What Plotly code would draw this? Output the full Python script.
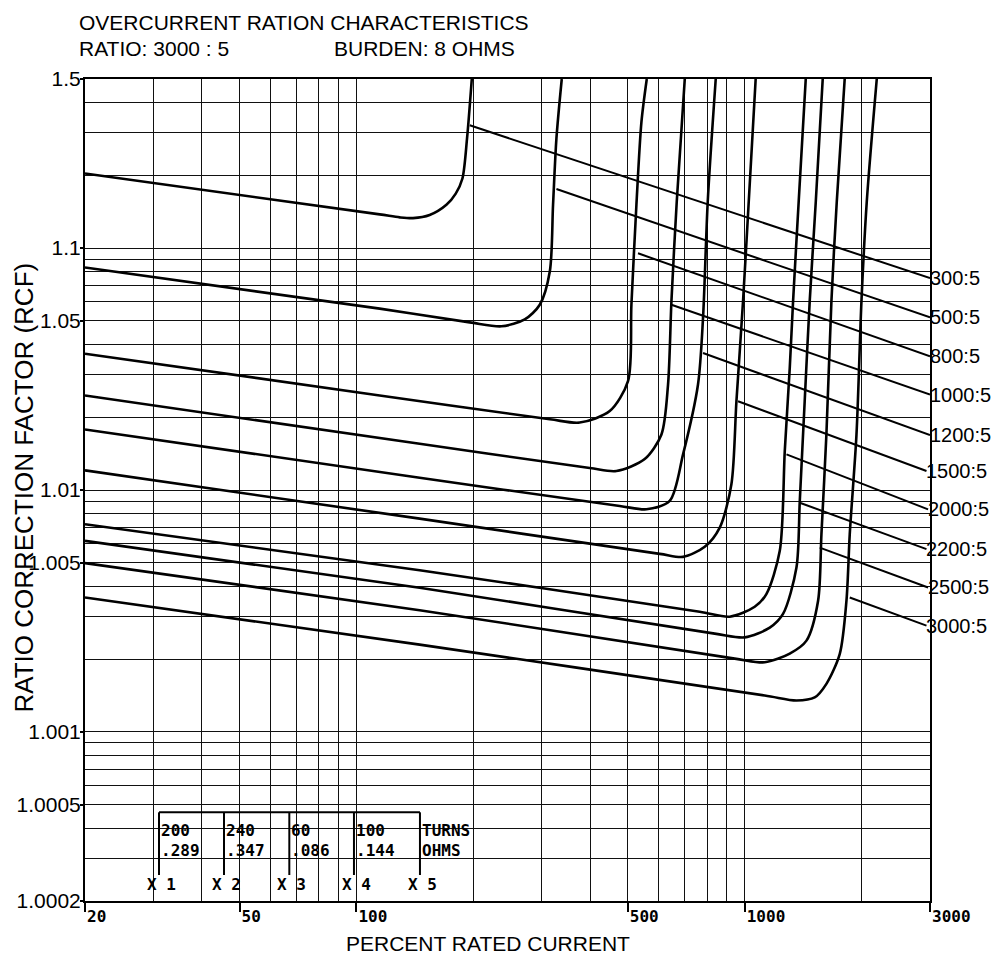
import math
import plotly.graph_objects as go

# ---------------- data ----------------
ratios = ["300:5", "500:5", "800:5", "1000:5", "1200:5",
          "1500:5", "2000:5", "2200:5", "2500:5", "3000:5"]

# percent rated current / ratio correction factor along each excitation curve
pct_300 = [20, 114.8, 129.3, 139.9, 154.4, 170.5, 180.2, 187.5, 192.7, 198.2]
rcf_300 = [1.2034, 1.1378, 1.134, 1.133, 1.137, 1.151, 1.168, 1.194, 1.284, 1.5]

pct_500 = [20, 114.8, 195.8, 236.3, 271.3, 296.6, 314.8, 320.9, 327.4, 337.9]
rcf_500 = [1.0831, 1.0562, 1.0493, 1.0475, 1.0507, 1.0583, 1.080, 1.151, 1.284, 1.5]

pct_800 = [20, 114.8, 314.8, 375.9, 449.1, 500.5, 510.7, 526.1, 542.0, 559.4]
rcf_800 = [1.0366, 1.0246, 1.0196, 1.0190, 1.0212, 1.0282, 1.0583, 1.151, 1.3324, 1.5]

pct_1000 = [20, 145.5, 398.9, 467.2, 552.7, 610.3, 634.6, 647.5, 668.2, 700.8]
rcf_1000 = [1.02457, 1.01552, 1.01232, 1.01198, 1.01342, 1.01697, 1.02729, 1.0602, 1.1555, 1.5]

pct_1200 = [20, 145.5, 476.6, 558.4, 641, 693.7, 758.0, 780.9, 803.0, 842.0]
rcf_1200 = [1.0178, 1.01124, 1.00859, 1.00832, 1.00901, 1.01403, 1.02729, 1.05135, 1.1555, 1.5]

pct_1500 = [20, 145.5, 604.2, 693.7, 788.9, 862.3, 924.0, 952.0, 990.0, 1024, 1067]
rcf_1500 = [1.01206, 1.007613, 1.005446, 1.005293, 1.005821, 1.00699, 1.01056, 1.02328, 1.0602, 1.1555, 1.5]

pct_2000 = [20, 145.5, 765.7, 914.9, 1061, 1137, 1231, 1268, 1306, 1332, 1377, 1436]
rcf_2000 = [1.007223, 1.004656, 1.00314, 1.002995, 1.00329, 1.003715, 1.005604, 1.01448, 1.03194, 1.0602, 1.1555, 1.5]

pct_2200 = [20, 145.5, 837.0, 1000, 1160, 1255, 1359, 1386, 1427, 1470, 1524, 1588]
rcf_2200 = [1.006163, 1.003944, 1.002548, 1.00246, 1.002697, 1.003073, 1.004781, 1.00901, 1.02328, 1.0602, 1.1555, 1.5]

pct_2500 = [20, 145.5, 942.6, 1126, 1306, 1442, 1545, 1576, 1623, 1672, 1726, 1809]
rcf_2500 = [1.004985, 1.003185, 1.002009, 1.00194, 1.002107, 1.002384, 1.003486, 1.006568, 1.01697, 1.0602, 1.1555, 1.5]

pct_3000 = [20, 145.5, 1126, 1359, 1514, 1623, 1757, 1828, 1864, 1940, 1998, 2062, 2188]
rcf_3000 = [1.003595, 1.002295, 1.001414, 1.001349, 1.001388, 1.00158, 1.002102, 1.003486, 1.006568, 1.01697, 1.0602, 1.1555, 1.5]

# straight leader segments from each curve to its ratio label
diag_start_pct = [195.8, 327.4, 531.1, 647.5, 780.9, 961, 1281, 1386, 1560, 1864]
diag_start_rcf = [1.322, 1.1754, 1.0952, 1.0583, 1.03684, 1.02328, 1.01403, 1.00886, 1.005781, 1.003595]
diag_end_pct = [3000, 3000, 3000, 3000, 3000, 2938, 2966, 2938, 2966, 2938]
diag_end_rcf = [1.0751, 1.0517, 1.0357, 1.0248, 1.01686, 1.01198, 1.00832, 1.005694, 1.003955, 1.002749]

# axes
x_major = [20, 50, 100, 500, 1000, 3000]
x_major_labels = ["20", "50", "100", "500", "1000", "3000"]
x_minor = [30, 40, 60, 70, 80, 90, 200, 300, 400, 600, 700, 800, 900, 2000]
y_major_labels = ["1.0002", "1.0005", "1.001", "1.005", "1.01", "1.05", "1.1", "1.5"]
y_minor_rcf = [1.0003, 1.0004, 1.0006, 1.0007, 1.0008, 1.0009,
               1.002, 1.003, 1.004, 1.006, 1.007, 1.008, 1.009,
               1.02, 1.03, 1.04, 1.06, 1.07, 1.08, 1.09,
               1.2, 1.3, 1.4]

# tap table
tap_turns = ["200", "240", "60", "100"]
tap_ohms = [".289", ".347", ".086", ".144"]
tap_names = ["X 1", "X 2", "X 3", "X 4", "X 5"]

# ---------------- figure ----------------
curve_pcts = [pct_300, pct_500, pct_800, pct_1000, pct_1200,
              pct_1500, pct_2000, pct_2200, pct_2500, pct_3000]
curve_rcfs = [rcf_300, rcf_500, rcf_800, rcf_1000, rcf_1200,
              rcf_1500, rcf_2000, rcf_2200, rcf_2500, rcf_3000]

fig = go.Figure()
for name, xs, ys in zip(ratios, curve_pcts, curve_rcfs):
    fig.add_trace(go.Scatter(
        x=xs, y=[v - 1 for v in ys], mode="lines", name=name,
        line=dict(color="black", width=2.6, shape="spline", smoothing=0.8),
        showlegend=False, hoverinfo="skip"))

LABEL_FONT = dict(family="Liberation Sans, Arial, sans-serif", size=21, color="black")
RIGHT_FONT = dict(family="Liberation Sans, Arial, sans-serif", size=20, color="black")
MONO_FONT = dict(family="DejaVu Sans Mono, monospace", size=16, color="black", weight="bold")

for i, name in enumerate(ratios):
    fig.add_trace(go.Scatter(
        x=[diag_start_pct[i], diag_end_pct[i]],
        y=[diag_start_rcf[i] - 1, diag_end_rcf[i] - 1],
        mode="lines", line=dict(color="black", width=2),
        showlegend=False, hoverinfo="skip"))
    fig.add_annotation(
        x=math.log10(diag_end_pct[i]), y=math.log10(diag_end_rcf[i] - 1),
        xref="x", yref="y", text=name, showarrow=False,
        xanchor="left", yanchor="middle", xshift=-2, font=RIGHT_FONT)

grid = dict(showgrid=True, gridcolor="#111111", gridwidth=1.4)

fig.update_xaxes(
    type="log", range=[math.log10(20), math.log10(3000)],
    tickmode="array", tickvals=x_major, ticktext=x_major_labels,
    ticks="outside", ticklen=9, tickwidth=2, tickcolor="black",
    ticklabelposition="outside right",
    tickfont=MONO_FONT,
    minor=dict(tickmode="array", tickvals=x_minor, ticks="", **grid),
    showline=True, linecolor="black", linewidth=2, mirror=True,
    zeroline=False, **grid)

fig.update_yaxes(
    type="log", range=[math.log10(0.0002), math.log10(0.5)],
    tickmode="array", tickvals=[float(t) - 1 for t in y_major_labels],
    ticktext=y_major_labels,
    ticks="outside", ticklen=3, tickwidth=2, tickcolor="black",
    ticklabelstandoff=-5,
    tickfont=dict(family="Liberation Sans, Arial, sans-serif", size=21, color="black"),
    minor=dict(tickmode="array", tickvals=[v - 1 for v in y_minor_rcf], ticks="", **grid),
    showline=True, linecolor="black", linewidth=2, mirror=True,
    zeroline=False, **grid)

annotations = [
    dict(x=-0.009, y=1.0688, text="OVERCURRENT RATION CHARACTERISTICS"),
    dict(x=-0.009, y=1.0365, text="RATIO: 3000 : 5"),
    dict(x=0.292, y=1.0365, text="BURDEN: 8 OHMS"),
]
for a in annotations:
    fig.add_annotation(xref="paper", yref="paper", showarrow=False,
                       xanchor="left", yanchor="middle", font=LABEL_FONT, **a)

fig.add_annotation(xref="paper", yref="paper", x=0.4769, y=-0.0511,
                   text="PERCENT RATED CURRENT", showarrow=False,
                   xanchor="center", yanchor="middle", font=LABEL_FONT)
fig.add_annotation(xref="paper", yref="paper", x=-0.0722, y=0.503,
                   text="RATIO CORRECTION FACTOR (RCF)", showarrow=False,
                   textangle=-90, xanchor="center", yanchor="middle",
                   font=dict(family="Liberation Sans, Arial, sans-serif", size=26, color="black"))

# tap table (paper coordinates)
table_cols = [0.0876, 0.1645, 0.2418, 0.3183, 0.3964]
table_top, table_bot = 0.1079, 0.0316
row_turns, row_ohms, row_taps = 0.0852, 0.062, 0.0195
fig.add_shape(type="line", xref="paper", yref="paper",
              x0=table_cols[0], x1=table_cols[-1], y0=table_top, y1=table_top,
              line=dict(color="black", width=2))
for c in table_cols:
    fig.add_shape(type="line", xref="paper", yref="paper",
                  x0=c, x1=c, y0=table_top, y1=table_bot,
                  line=dict(color="black", width=2))
for i, c in enumerate(table_cols):
    if i < len(tap_turns):
        t1, t2 = tap_turns[i], tap_ohms[i]
    else:
        t1, t2 = "TURNS", "OHMS"
    fig.add_annotation(xref="paper", yref="paper", x=c - 0.0005, y=row_turns, text=t1,
                       showarrow=False, xanchor="left", yanchor="middle", font=MONO_FONT)
    fig.add_annotation(xref="paper", yref="paper", x=c - 0.0005, y=row_ohms, text=t2,
                       showarrow=False, xanchor="left", yanchor="middle", font=MONO_FONT)
    fig.add_annotation(xref="paper", yref="paper", x=c - 0.017, y=row_taps, text=tap_names[i],
                       showarrow=False, xanchor="left", yanchor="middle", font=MONO_FONT)

fig.update_layout(
    width=993, height=957,
    margin=dict(l=85, r=63, t=79, b=56),
    paper_bgcolor="white", plot_bgcolor="white",
    showlegend=False,
    font=dict(family="Liberation Sans, Arial, sans-serif", color="black"),
)

fig.write_html(
    "out.html",
    config={"displayModeBar": False},
    post_script="document.body.style.margin='0px';document.body.style.overflow='hidden';",
)
